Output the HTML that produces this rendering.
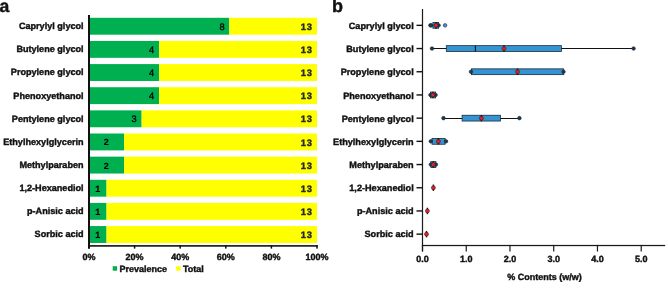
<!DOCTYPE html>
<html><head><meta charset="utf-8"><style>
html,body{margin:0;padding:0;background:#fff;overflow:hidden;}
svg{display:block;will-change:transform;} text{font-family:"Liberation Sans",sans-serif;text-rendering:geometricPrecision;}
</style></head><body>
<svg width="668" height="288" viewBox="0 0 668 288">
<rect width="668" height="288" fill="#fff"/>
<text x="-0.5" y="12.2" font-family="Liberation Sans, sans-serif" font-weight="bold" font-size="17.6" fill="#111" stroke="#111" stroke-width="0.4">a</text>
<rect x="90" y="17.80" width="139.31" height="16.9" fill="#00B050"/>
<rect x="229.31" y="17.80" width="87.69" height="16.9" fill="#FFFF00"/>
<text x="83.6" y="29.10" font-family="Liberation Sans, sans-serif" font-weight="bold" font-size="9.1" fill="#111" stroke="#111" stroke-width="0.4" text-anchor="end">Caprylyl glycol</text>
<text x="222.00" y="29.70" font-family="Liberation Sans, sans-serif" font-size="9.3" fill="#000" stroke="#000" stroke-width="0.35" text-anchor="middle">8</text>
<text x="312.9" y="29.90" font-family="Liberation Sans, sans-serif" font-weight="bold" letter-spacing="0.9" font-size="9.3" fill="#2a2a2a" stroke="#2a2a2a" stroke-width="0.4" text-anchor="end">13</text>
<rect x="90" y="40.94" width="69.15" height="16.9" fill="#00B050"/>
<rect x="159.15" y="40.94" width="157.85" height="16.9" fill="#FFFF00"/>
<text x="83.6" y="52.24" font-family="Liberation Sans, sans-serif" font-weight="bold" font-size="9.1" fill="#111" stroke="#111" stroke-width="0.4" text-anchor="end">Butylene glycol</text>
<text x="151.60" y="52.84" font-family="Liberation Sans, sans-serif" font-size="9.3" fill="#000" stroke="#000" stroke-width="0.35" text-anchor="middle">4</text>
<text x="312.9" y="53.04" font-family="Liberation Sans, sans-serif" font-weight="bold" letter-spacing="0.9" font-size="9.3" fill="#2a2a2a" stroke="#2a2a2a" stroke-width="0.4" text-anchor="end">13</text>
<rect x="90" y="64.08" width="69.15" height="16.9" fill="#00B050"/>
<rect x="159.15" y="64.08" width="157.85" height="16.9" fill="#FFFF00"/>
<text x="83.6" y="75.38" font-family="Liberation Sans, sans-serif" font-weight="bold" font-size="9.1" fill="#111" stroke="#111" stroke-width="0.4" text-anchor="end">Propylene glycol</text>
<text x="151.60" y="75.98" font-family="Liberation Sans, sans-serif" font-size="9.3" fill="#000" stroke="#000" stroke-width="0.35" text-anchor="middle">4</text>
<text x="312.9" y="76.18" font-family="Liberation Sans, sans-serif" font-weight="bold" letter-spacing="0.9" font-size="9.3" fill="#2a2a2a" stroke="#2a2a2a" stroke-width="0.4" text-anchor="end">13</text>
<rect x="90" y="87.22" width="69.15" height="16.9" fill="#00B050"/>
<rect x="159.15" y="87.22" width="157.85" height="16.9" fill="#FFFF00"/>
<text x="83.6" y="98.52" font-family="Liberation Sans, sans-serif" font-weight="bold" font-size="9.1" fill="#111" stroke="#111" stroke-width="0.4" text-anchor="end">Phenoxyethanol</text>
<text x="151.60" y="99.12" font-family="Liberation Sans, sans-serif" font-size="9.3" fill="#000" stroke="#000" stroke-width="0.35" text-anchor="middle">4</text>
<text x="312.9" y="99.32" font-family="Liberation Sans, sans-serif" font-weight="bold" letter-spacing="0.9" font-size="9.3" fill="#2a2a2a" stroke="#2a2a2a" stroke-width="0.4" text-anchor="end">13</text>
<rect x="90" y="110.36" width="51.62" height="16.9" fill="#00B050"/>
<rect x="141.62" y="110.36" width="175.38" height="16.9" fill="#FFFF00"/>
<text x="83.6" y="121.66" font-family="Liberation Sans, sans-serif" font-weight="bold" font-size="9.1" fill="#111" stroke="#111" stroke-width="0.4" text-anchor="end">Pentylene glycol</text>
<text x="134.20" y="122.26" font-family="Liberation Sans, sans-serif" font-size="9.3" fill="#000" stroke="#000" stroke-width="0.35" text-anchor="middle">3</text>
<text x="312.9" y="122.46" font-family="Liberation Sans, sans-serif" font-weight="bold" letter-spacing="0.9" font-size="9.3" fill="#2a2a2a" stroke="#2a2a2a" stroke-width="0.4" text-anchor="end">13</text>
<rect x="90" y="133.50" width="34.08" height="16.9" fill="#00B050"/>
<rect x="124.08" y="133.50" width="192.92" height="16.9" fill="#FFFF00"/>
<text x="83.6" y="144.80" font-family="Liberation Sans, sans-serif" font-weight="bold" font-size="9.1" fill="#111" stroke="#111" stroke-width="0.4" text-anchor="end">Ethylhexylglycerin</text>
<text x="106.20" y="145.40" font-family="Liberation Sans, sans-serif" font-weight="bold" font-size="9" fill="#000" stroke="#000" stroke-width="0.15" text-anchor="middle">2</text>
<text x="312.9" y="145.60" font-family="Liberation Sans, sans-serif" font-weight="bold" letter-spacing="0.9" font-size="9.3" fill="#2a2a2a" stroke="#2a2a2a" stroke-width="0.4" text-anchor="end">13</text>
<rect x="90" y="156.64" width="34.08" height="16.9" fill="#00B050"/>
<rect x="124.08" y="156.64" width="192.92" height="16.9" fill="#FFFF00"/>
<text x="83.6" y="167.94" font-family="Liberation Sans, sans-serif" font-weight="bold" font-size="9.1" fill="#111" stroke="#111" stroke-width="0.4" text-anchor="end">Methylparaben</text>
<text x="106.20" y="168.54" font-family="Liberation Sans, sans-serif" font-weight="bold" font-size="9" fill="#000" stroke="#000" stroke-width="0.15" text-anchor="middle">2</text>
<text x="312.9" y="168.74" font-family="Liberation Sans, sans-serif" font-weight="bold" letter-spacing="0.9" font-size="9.3" fill="#2a2a2a" stroke="#2a2a2a" stroke-width="0.4" text-anchor="end">13</text>
<rect x="90" y="179.78" width="16.54" height="16.9" fill="#00B050"/>
<rect x="106.54" y="179.78" width="210.46" height="16.9" fill="#FFFF00"/>
<text x="83.6" y="191.08" font-family="Liberation Sans, sans-serif" font-weight="bold" font-size="9.1" fill="#111" stroke="#111" stroke-width="0.4" text-anchor="end">1,2-Hexanediol</text>
<text x="97.80" y="191.68" font-family="Liberation Sans, sans-serif" font-weight="bold" font-size="9" fill="#000" stroke="#000" stroke-width="0.15" text-anchor="middle">1</text>
<text x="312.9" y="191.88" font-family="Liberation Sans, sans-serif" font-weight="bold" letter-spacing="0.9" font-size="9.3" fill="#2a2a2a" stroke="#2a2a2a" stroke-width="0.4" text-anchor="end">13</text>
<rect x="90" y="202.92" width="16.54" height="16.9" fill="#00B050"/>
<rect x="106.54" y="202.92" width="210.46" height="16.9" fill="#FFFF00"/>
<text x="83.6" y="214.22" font-family="Liberation Sans, sans-serif" font-weight="bold" font-size="9.1" fill="#111" stroke="#111" stroke-width="0.4" text-anchor="end">p-Anisic acid</text>
<text x="97.80" y="214.82" font-family="Liberation Sans, sans-serif" font-weight="bold" font-size="9" fill="#000" stroke="#000" stroke-width="0.15" text-anchor="middle">1</text>
<text x="312.9" y="215.02" font-family="Liberation Sans, sans-serif" font-weight="bold" letter-spacing="0.9" font-size="9.3" fill="#2a2a2a" stroke="#2a2a2a" stroke-width="0.4" text-anchor="end">13</text>
<rect x="90" y="226.06" width="16.54" height="16.9" fill="#00B050"/>
<rect x="106.54" y="226.06" width="210.46" height="16.9" fill="#FFFF00"/>
<text x="83.6" y="237.36" font-family="Liberation Sans, sans-serif" font-weight="bold" font-size="9.1" fill="#111" stroke="#111" stroke-width="0.4" text-anchor="end">Sorbic acid</text>
<text x="97.80" y="237.96" font-family="Liberation Sans, sans-serif" font-weight="bold" font-size="9" fill="#000" stroke="#000" stroke-width="0.15" text-anchor="middle">1</text>
<text x="312.9" y="238.16" font-family="Liberation Sans, sans-serif" font-weight="bold" letter-spacing="0.9" font-size="9.3" fill="#2a2a2a" stroke="#2a2a2a" stroke-width="0.4" text-anchor="end">13</text>
<rect x="88" y="15" width="2" height="233.6" fill="#111"/>
<rect x="88" y="245.1" width="229.7" height="1.6" fill="#111"/>
<rect x="88.25" y="245.1" width="1.5" height="3.5" fill="#111"/>
<text x="89.00" y="259.9" font-family="Liberation Sans, sans-serif" font-weight="bold" font-size="9" fill="#111" stroke="#111" stroke-width="0.4" text-anchor="middle">0%</text>
<rect x="133.85" y="245.1" width="1.5" height="3.5" fill="#111"/>
<text x="134.60" y="259.9" font-family="Liberation Sans, sans-serif" font-weight="bold" font-size="9" fill="#111" stroke="#111" stroke-width="0.4" text-anchor="middle">20%</text>
<rect x="179.45" y="245.1" width="1.5" height="3.5" fill="#111"/>
<text x="180.20" y="259.9" font-family="Liberation Sans, sans-serif" font-weight="bold" font-size="9" fill="#111" stroke="#111" stroke-width="0.4" text-anchor="middle">40%</text>
<rect x="225.05" y="245.1" width="1.5" height="3.5" fill="#111"/>
<text x="225.80" y="259.9" font-family="Liberation Sans, sans-serif" font-weight="bold" font-size="9" fill="#111" stroke="#111" stroke-width="0.4" text-anchor="middle">60%</text>
<rect x="270.65" y="245.1" width="1.5" height="3.5" fill="#111"/>
<text x="271.40" y="259.9" font-family="Liberation Sans, sans-serif" font-weight="bold" font-size="9" fill="#111" stroke="#111" stroke-width="0.4" text-anchor="middle">80%</text>
<rect x="316.25" y="245.1" width="1.5" height="3.5" fill="#111"/>
<text x="317.00" y="259.9" font-family="Liberation Sans, sans-serif" font-weight="bold" font-size="9" fill="#111" stroke="#111" stroke-width="0.4" text-anchor="middle">100%</text>
<rect x="112.7" y="266.2" width="4.4" height="4.5" fill="#00B050"/>
<text x="119.6" y="271.5" font-family="Liberation Sans, sans-serif" font-weight="bold" font-size="9" fill="#111" stroke="#111" stroke-width="0.4">Prevalence</text>
<rect x="176.2" y="266.2" width="4.4" height="4.5" fill="#FFFF00"/>
<text x="183.0" y="271.5" font-family="Liberation Sans, sans-serif" font-weight="bold" font-size="9" fill="#111" stroke="#111" stroke-width="0.4">Total</text>
<text x="332.1" y="12.2" font-family="Liberation Sans, sans-serif" font-weight="bold" font-size="18" fill="#111" stroke="#111" stroke-width="0.4">b</text>
<rect x="421.9" y="9" width="1.2" height="242.5" fill="#1a1a1a"/>
<rect x="421.9" y="244.9" width="243.3" height="1.25" fill="#1a1a1a"/>
<rect x="421.90" y="244.9" width="1.2" height="6.6" fill="#1a1a1a"/>
<text x="422.50" y="262.1" font-family="Liberation Sans, sans-serif" font-weight="bold" font-size="9" fill="#111" stroke="#111" stroke-width="0.4" text-anchor="middle">0.0</text>
<rect x="465.64" y="244.9" width="1.2" height="6.6" fill="#1a1a1a"/>
<text x="466.24" y="262.1" font-family="Liberation Sans, sans-serif" font-weight="bold" font-size="9" fill="#111" stroke="#111" stroke-width="0.4" text-anchor="middle">1.0</text>
<rect x="509.38" y="244.9" width="1.2" height="6.6" fill="#1a1a1a"/>
<text x="509.98" y="262.1" font-family="Liberation Sans, sans-serif" font-weight="bold" font-size="9" fill="#111" stroke="#111" stroke-width="0.4" text-anchor="middle">2.0</text>
<rect x="553.12" y="244.9" width="1.2" height="6.6" fill="#1a1a1a"/>
<text x="553.72" y="262.1" font-family="Liberation Sans, sans-serif" font-weight="bold" font-size="9" fill="#111" stroke="#111" stroke-width="0.4" text-anchor="middle">3.0</text>
<rect x="596.86" y="244.9" width="1.2" height="6.6" fill="#1a1a1a"/>
<text x="597.46" y="262.1" font-family="Liberation Sans, sans-serif" font-weight="bold" font-size="9" fill="#111" stroke="#111" stroke-width="0.4" text-anchor="middle">4.0</text>
<rect x="640.60" y="244.9" width="1.2" height="6.6" fill="#1a1a1a"/>
<text x="641.20" y="262.1" font-family="Liberation Sans, sans-serif" font-weight="bold" font-size="9" fill="#111" stroke="#111" stroke-width="0.4" text-anchor="middle">5.0</text>
<text x="544.5" y="280.1" font-family="Liberation Sans, sans-serif" font-weight="bold" font-size="9" fill="#111" stroke="#111" stroke-width="0.4" text-anchor="middle">% Contents (w/w)</text>
<rect x="416.5" y="24.65" width="5.7" height="1.4" fill="#111"/>
<text x="413.7" y="29.10" font-family="Liberation Sans, sans-serif" font-weight="bold" font-size="9.15" fill="#111" stroke="#111" stroke-width="0.4" text-anchor="end">Caprylyl glycol</text>
<line x1="430.40" y1="25.50" x2="438.60" y2="25.50" stroke="#111" stroke-width="1.1"/>
<rect x="432.90" y="22.45" width="5.70" height="5.8" fill="#3494d2" stroke="#1c2a38" stroke-width="0.8"/>
<circle cx="430.40" cy="25.35" r="1.8" fill="#1f3550" stroke="#1c2a38" stroke-width="0.6"/>
<circle cx="438.60" cy="25.35" r="1.8" fill="#1f3550" stroke="#1c2a38" stroke-width="0.6"/>
<circle cx="431.20" cy="25.35" r="1.8" fill="#1f3550" stroke="#1c2a38" stroke-width="0.6"/>
<circle cx="445.10" cy="25.35" r="1.8" fill="#4a90d9" stroke="#1c2a38" stroke-width="0.6"/>
<rect x="435.30" y="22.15" width="1.4" height="6.4" fill="#111"/>
<circle cx="436.00" cy="25.35" r="2.0" fill="#ee1c24" stroke="#222" stroke-width="0.6"/>
<rect x="416.5" y="47.85" width="5.7" height="1.4" fill="#111"/>
<text x="413.7" y="52.24" font-family="Liberation Sans, sans-serif" font-weight="bold" font-size="9.15" fill="#111" stroke="#111" stroke-width="0.4" text-anchor="end">Butylene glycol</text>
<line x1="432.00" y1="48.50" x2="633.60" y2="48.50" stroke="#111" stroke-width="1.1"/>
<rect x="446.30" y="45.65" width="115.10" height="5.8" fill="#3494d2" stroke="#1c2a38" stroke-width="0.8"/>
<line x1="475.40" y1="45.65" x2="475.40" y2="51.45" stroke="#111" stroke-width="1.1"/>
<circle cx="432.00" cy="48.55" r="1.8" fill="#1f3550" stroke="#1c2a38" stroke-width="0.6"/>
<circle cx="633.60" cy="48.55" r="1.8" fill="#1f3550" stroke="#1c2a38" stroke-width="0.6"/>
<rect x="503.30" y="45.35" width="1.4" height="6.4" fill="#111"/>
<circle cx="504.00" cy="48.55" r="2.0" fill="#ee1c24" stroke="#222" stroke-width="0.6"/>
<rect x="416.5" y="71.05" width="5.7" height="1.4" fill="#111"/>
<text x="413.7" y="75.38" font-family="Liberation Sans, sans-serif" font-weight="bold" font-size="9.15" fill="#111" stroke="#111" stroke-width="0.4" text-anchor="end">Propylene glycol</text>
<line x1="471.00" y1="71.50" x2="563.50" y2="71.50" stroke="#111" stroke-width="1.1"/>
<rect x="471.40" y="68.85" width="92.30" height="5.8" fill="#3494d2" stroke="#1c2a38" stroke-width="0.8"/>
<circle cx="471.00" cy="71.75" r="1.8" fill="#1f3550" stroke="#1c2a38" stroke-width="0.6"/>
<circle cx="563.50" cy="71.75" r="1.8" fill="#1f3550" stroke="#1c2a38" stroke-width="0.6"/>
<rect x="516.80" y="68.55" width="1.4" height="6.4" fill="#111"/>
<circle cx="517.50" cy="71.75" r="2.0" fill="#ee1c24" stroke="#222" stroke-width="0.6"/>
<rect x="416.5" y="94.25" width="5.7" height="1.4" fill="#111"/>
<text x="413.7" y="98.52" font-family="Liberation Sans, sans-serif" font-weight="bold" font-size="9.15" fill="#111" stroke="#111" stroke-width="0.4" text-anchor="end">Phenoxyethanol</text>
<line x1="430.40" y1="94.50" x2="435.60" y2="94.50" stroke="#111" stroke-width="1.1"/>
<rect x="430.40" y="92.05" width="5.20" height="5.8" fill="#3494d2" stroke="#1c2a38" stroke-width="0.8"/>
<circle cx="430.40" cy="94.95" r="1.8" fill="#1f3550" stroke="#1c2a38" stroke-width="0.6"/>
<circle cx="435.60" cy="94.95" r="1.8" fill="#1f3550" stroke="#1c2a38" stroke-width="0.6"/>
<rect x="432.20" y="91.75" width="1.4" height="6.4" fill="#111"/>
<circle cx="432.90" cy="94.95" r="2.0" fill="#ee1c24" stroke="#222" stroke-width="0.6"/>
<rect x="416.5" y="117.45" width="5.7" height="1.4" fill="#111"/>
<text x="413.7" y="121.66" font-family="Liberation Sans, sans-serif" font-weight="bold" font-size="9.15" fill="#111" stroke="#111" stroke-width="0.4" text-anchor="end">Pentylene glycol</text>
<line x1="443.50" y1="118.50" x2="519.40" y2="118.50" stroke="#111" stroke-width="1.1"/>
<rect x="462.10" y="115.25" width="38.30" height="5.8" fill="#3494d2" stroke="#1c2a38" stroke-width="0.8"/>
<circle cx="443.50" cy="118.15" r="1.8" fill="#1f3550" stroke="#1c2a38" stroke-width="0.6"/>
<circle cx="519.40" cy="118.15" r="1.8" fill="#1f3550" stroke="#1c2a38" stroke-width="0.6"/>
<rect x="480.70" y="114.95" width="1.4" height="6.4" fill="#111"/>
<circle cx="481.40" cy="118.15" r="2.0" fill="#ee1c24" stroke="#222" stroke-width="0.6"/>
<rect x="416.5" y="140.65" width="5.7" height="1.4" fill="#111"/>
<text x="413.7" y="144.80" font-family="Liberation Sans, sans-serif" font-weight="bold" font-size="9.15" fill="#111" stroke="#111" stroke-width="0.4" text-anchor="end">Ethylhexylglycerin</text>
<line x1="430.80" y1="141.50" x2="446.00" y2="141.50" stroke="#111" stroke-width="1.1"/>
<rect x="432.00" y="138.45" width="13.10" height="5.8" fill="#3494d2" stroke="#1c2a38" stroke-width="0.8"/>
<circle cx="430.80" cy="141.35" r="1.8" fill="#1f3550" stroke="#1c2a38" stroke-width="0.6"/>
<circle cx="446.00" cy="141.35" r="1.8" fill="#1f3550" stroke="#1c2a38" stroke-width="0.6"/>
<rect x="437.70" y="138.15" width="1.4" height="6.4" fill="#111"/>
<circle cx="438.40" cy="141.35" r="2.0" fill="#ee1c24" stroke="#222" stroke-width="0.6"/>
<rect x="416.5" y="163.85" width="5.7" height="1.4" fill="#111"/>
<text x="413.7" y="167.94" font-family="Liberation Sans, sans-serif" font-weight="bold" font-size="9.15" fill="#111" stroke="#111" stroke-width="0.4" text-anchor="end">Methylparaben</text>
<line x1="430.80" y1="164.50" x2="435.90" y2="164.50" stroke="#111" stroke-width="1.1"/>
<rect x="430.80" y="161.65" width="5.10" height="5.8" fill="#3494d2" stroke="#1c2a38" stroke-width="0.8"/>
<circle cx="430.80" cy="164.55" r="1.8" fill="#1f3550" stroke="#1c2a38" stroke-width="0.6"/>
<circle cx="435.90" cy="164.55" r="1.8" fill="#1f3550" stroke="#1c2a38" stroke-width="0.6"/>
<rect x="432.60" y="161.35" width="1.4" height="6.4" fill="#111"/>
<circle cx="433.30" cy="164.55" r="2.0" fill="#ee1c24" stroke="#222" stroke-width="0.6"/>
<rect x="416.5" y="187.05" width="5.7" height="1.4" fill="#111"/>
<text x="413.7" y="191.08" font-family="Liberation Sans, sans-serif" font-weight="bold" font-size="9.15" fill="#111" stroke="#111" stroke-width="0.4" text-anchor="end">1,2-Hexanediol</text>
<rect x="432.70" y="184.55" width="1.4" height="6.4" fill="#111"/>
<circle cx="433.40" cy="187.75" r="2.0" fill="#ee1c24" stroke="#222" stroke-width="0.6"/>
<rect x="416.5" y="210.25" width="5.7" height="1.4" fill="#111"/>
<text x="413.7" y="214.22" font-family="Liberation Sans, sans-serif" font-weight="bold" font-size="9.15" fill="#111" stroke="#111" stroke-width="0.4" text-anchor="end">p-Anisic acid</text>
<rect x="426.70" y="207.75" width="1.4" height="6.4" fill="#111"/>
<circle cx="427.40" cy="210.95" r="2.0" fill="#ee1c24" stroke="#222" stroke-width="0.6"/>
<rect x="416.5" y="233.45" width="5.7" height="1.4" fill="#111"/>
<text x="413.7" y="237.36" font-family="Liberation Sans, sans-serif" font-weight="bold" font-size="9.15" fill="#111" stroke="#111" stroke-width="0.4" text-anchor="end">Sorbic acid</text>
<rect x="425.80" y="230.95" width="1.4" height="6.4" fill="#111"/>
<circle cx="426.50" cy="234.15" r="2.0" fill="#ee1c24" stroke="#222" stroke-width="0.6"/>
</svg>
</body></html>
